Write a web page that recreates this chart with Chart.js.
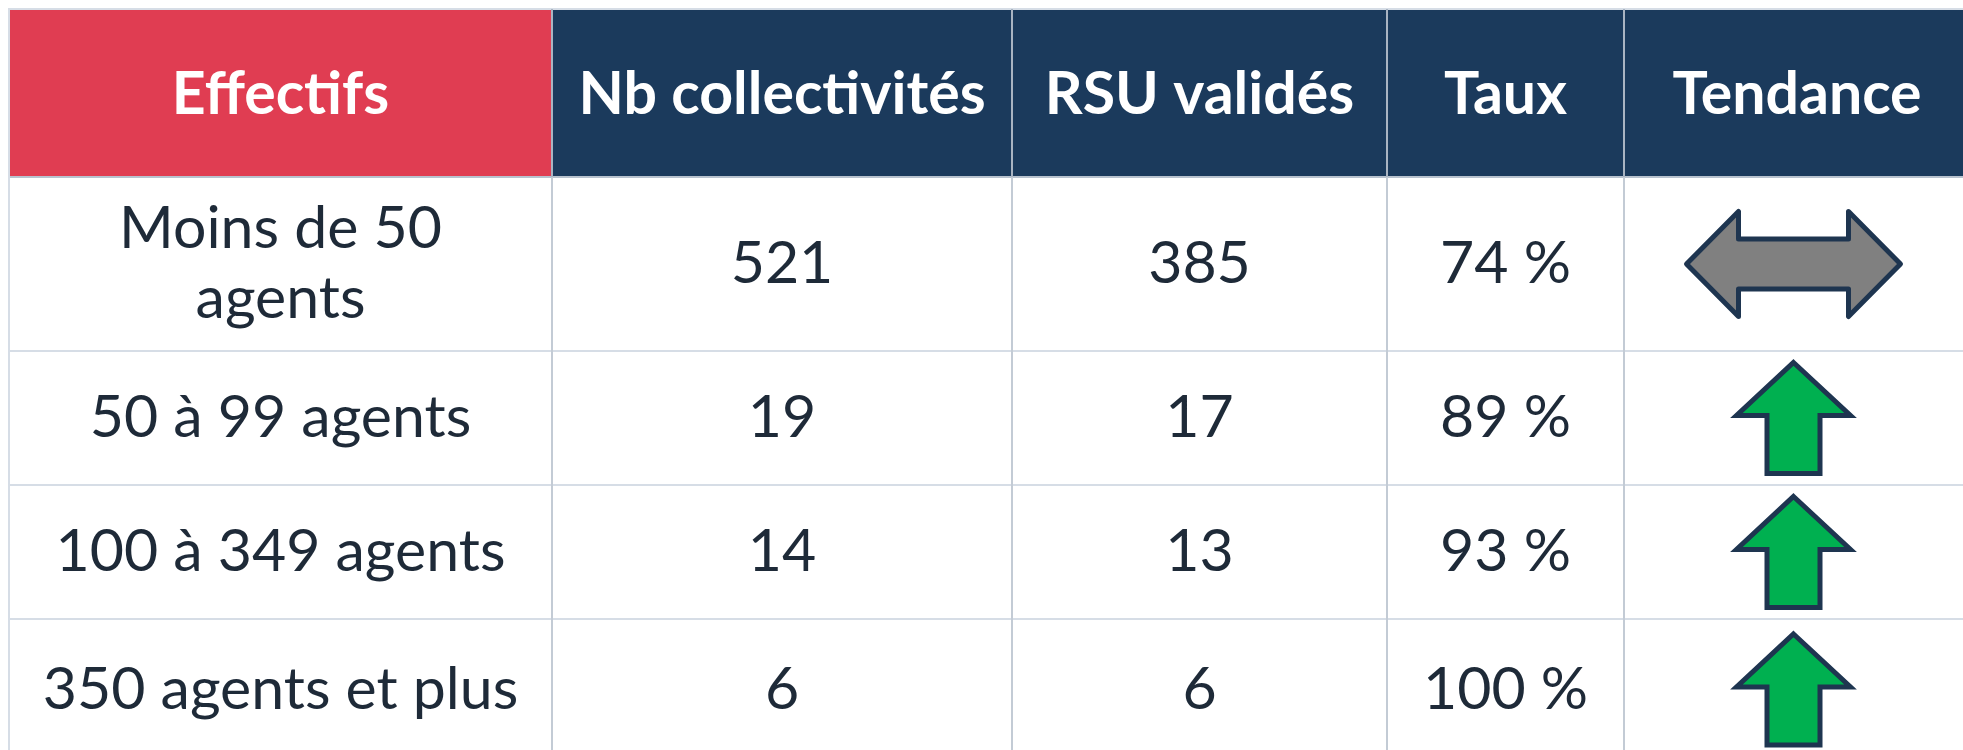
<!DOCTYPE html>
<html lang="fr">
<head>
<meta charset="UTF-8">
<title>RSU validés par effectifs</title>
<script src="https://cdn.jsdelivr.net/npm/chart.js"></script>
<style>
    body { margin: 0; background: #ffffff; }
    .wrap { width: 1963px; height: 750px; position: relative; }
</style>
</head>
<body>
<div class="wrap"><canvas id="table"></canvas></div>
<script>
// table content
const columns = ['Effectifs', 'Nb collectivités', 'RSU validés', 'Taux', 'Tendance'];
const effectifs = [['Moins de 50', 'agents'], ['50 à 99 agents'], ['100 à 349 agents'], ['350 agents et plus']];
const nbCollectivites = [521, 19, 14, 6];
const rsuValides = [385, 17, 13, 6];
const taux = [74, 89, 93, 100];
const tendance = ['stable', 'up', 'up', 'up'];

// layout (scale units = pixels of the table)
const colEdges = [9, 552, 1012, 1387, 1624, 1970];
const rowEdges = [9, 177, 351, 485, 619, 760];

const RED = '#E03D52';
const NAVY = '#1B3A5C';
const INK = '#1E2A38';
const GRID = '#D6DDE6';

function drawUp(ctx, cx, cy) {
    ctx.beginPath();
    ctx.moveTo(cx, cy - 55.5);
    ctx.lineTo(cx + 57, cy - 2.5);
    ctx.lineTo(cx + 26.5, cy - 2.5);
    ctx.lineTo(cx + 26.5, cy + 55.5);
    ctx.lineTo(cx - 26.5, cy + 55.5);
    ctx.lineTo(cx - 26.5, cy - 2.5);
    ctx.lineTo(cx - 57, cy - 2.5);
    ctx.closePath();
    ctx.fillStyle = '#00B050';
    ctx.fill();
    ctx.lineJoin = 'miter';
    ctx.lineWidth = 5;
    ctx.strokeStyle = '#1E3550';
    ctx.stroke();
}

function drawBoth(ctx, cx, cy) {
    ctx.beginPath();
    ctx.moveTo(cx - 107, cy);
    ctx.lineTo(cx - 55, cy - 52.5);
    ctx.lineTo(cx - 55, cy - 25);
    ctx.lineTo(cx + 55, cy - 25);
    ctx.lineTo(cx + 55, cy - 52.5);
    ctx.lineTo(cx + 107, cy);
    ctx.lineTo(cx + 55, cy + 52.5);
    ctx.lineTo(cx + 55, cy + 25);
    ctx.lineTo(cx - 55, cy + 25);
    ctx.lineTo(cx - 55, cy + 52.5);
    ctx.closePath();
    ctx.fillStyle = '#808080';
    ctx.fill();
    ctx.lineJoin = 'round';
    ctx.lineWidth = 5;
    ctx.strokeStyle = '#1E3550';
    ctx.stroke();
}

const tablePlugin = {
    id: 'tablePlugin',
    afterDraw(chart) {
        const ctx = chart.ctx;
        const xs = chart.scales.x, ys = chart.scales.y;
        const X = v => xs.getPixelForValue(v);
        const Y = v => ys.getPixelForValue(v);

        ctx.save();
        // header cells
        columns.forEach((name, c) => {
            const x0 = X(colEdges[c]), x1 = X(colEdges[c + 1]);
            const y0 = Y(rowEdges[0]), y1 = Y(rowEdges[1]);
            ctx.fillStyle = c === 0 ? RED : NAVY;
            ctx.fillRect(x0, y0, x1 - x0, y1 - y0);
        });

        // grid lines
        ctx.lineWidth = 2;
        ctx.strokeStyle = GRID;
        rowEdges.slice(0, 5).forEach((r, i) => {
            ctx.beginPath();
            ctx.moveTo(X(colEdges[0]) - 1, Y(r));
            ctx.lineTo(X(colEdges[5]), Y(r));
            ctx.strokeStyle = i === 1 ? '#B8C2CE' : GRID;
            ctx.stroke();
        });
        colEdges.slice(0, 5).forEach((c, i) => {
            ctx.beginPath();
            ctx.moveTo(X(c), Y(rowEdges[0]));
            ctx.lineTo(X(c), Y(rowEdges[5]));
            ctx.strokeStyle = i === 0 ? GRID : '#C3CBD5';
            ctx.stroke();
        });
        // header separators over navy
        colEdges.slice(1, 5).forEach(c => {
            ctx.beginPath();
            ctx.moveTo(X(c), Y(rowEdges[0]));
            ctx.lineTo(X(c), Y(rowEdges[1]));
            ctx.strokeStyle = '#A9B4C2';
            ctx.lineWidth = 2;
            ctx.stroke();
        });

        ctx.textAlign = 'center';
        ctx.textBaseline = 'middle';
        // header text
        ctx.fillStyle = '#FFFFFF';
        ctx.font = 'bold 59px Lato';
        columns.forEach((name, c) => {
            const cx = X((colEdges[c] + colEdges[c + 1]) / 2);
            ctx.fillText(name, cx, Y((rowEdges[0] + rowEdges[1]) / 2) + 2);
        });

        // body rows
        ctx.fillStyle = INK;
        ctx.font = '59px Lato';
        effectifs.forEach((lines, r) => {
            const cy = Y((rowEdges[r + 1] + rowEdges[r + 2]) / 2);
            const lead = 70;
            lines.forEach((t, i) => {
                const off = (i - (lines.length - 1) / 2) * lead;
                ctx.fillStyle = INK;
                ctx.fillText(t, X((colEdges[0] + colEdges[1]) / 2), cy + off);
            });
            ctx.fillText(String(nbCollectivites[r]), X((colEdges[1] + colEdges[2]) / 2), cy);
            ctx.fillText(String(rsuValides[r]), X((colEdges[2] + colEdges[3]) / 2), cy);
            ctx.fillText(taux[r] + ' %', X((colEdges[3] + colEdges[4]) / 2), cy);

            const ax = X((colEdges[4] + 1963) / 2);
            if (tendance[r] === 'up') drawUp(ctx, ax, cy);
            else drawBoth(ctx, ax, cy);
        });
        ctx.restore();
    }
};

new Chart(document.getElementById('table'), {
    type: 'scatter',
    data: { datasets: [{ data: [] }] },
    options: {
        responsive: true,
        maintainAspectRatio: false,
        animation: false,
        layout: { padding: 0 },
        plugins: { legend: { display: false }, tooltip: { enabled: false } },
        scales: {
            x: { type: 'linear', min: 0, max: 1963, display: false },
            y: { type: 'linear', min: 0, max: 750, reverse: true, display: false }
        }
    },
    plugins: [tablePlugin]
});
</script>
</body>
</html>
